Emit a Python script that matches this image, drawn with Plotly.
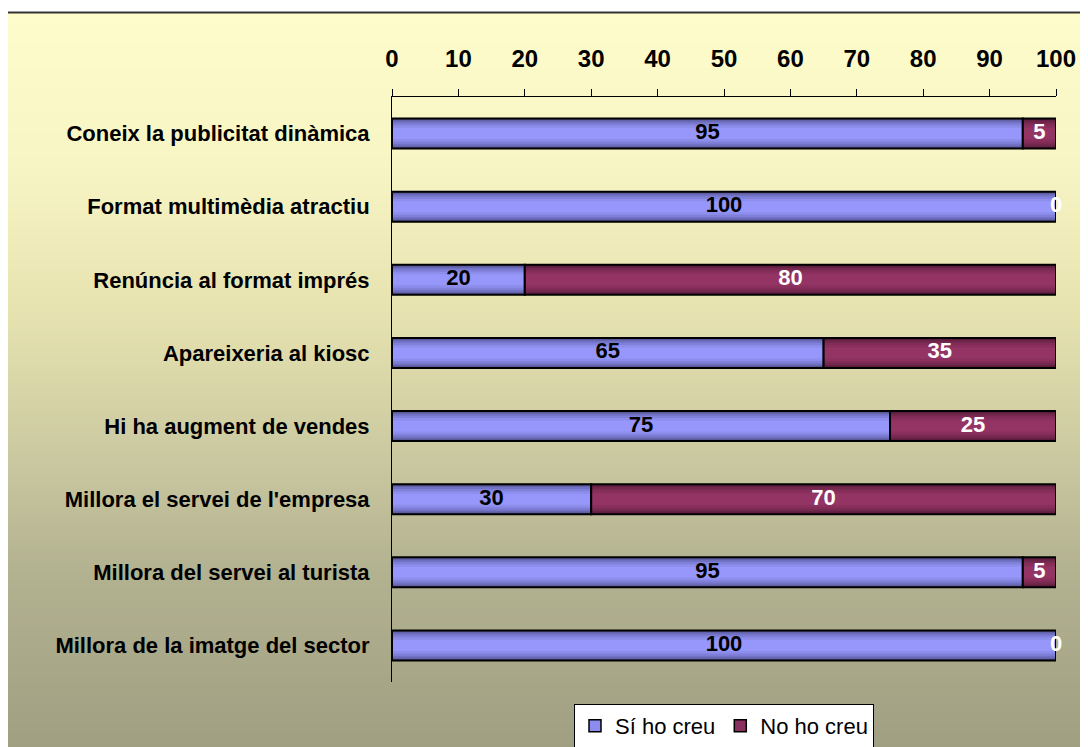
import plotly.graph_objects as go

categories = [
    "Coneix la publicitat dinàmica",
    "Format multimèdia atractiu",
    "Renúncia al format imprés",
    "Apareixeria al kiosc",
    "Hi ha augment de vendes",
    "Millora el servei de l'empresa",
    "Millora del servei al turista",
    "Millora de la imatge del sector",
]
si_values = [95, 100, 20, 65, 75, 30, 95, 100]
no_values = [5, 0, 80, 35, 25, 70, 5, 0]
series_names = ["Sí ho creu", "No ho creu"]
x_ticks = list(range(0, 101, 10))

FONT = "Liberation Sans, Arial, sans-serif"
W, H = 1088, 747
OFF = 8  # page body margin
L, T = 392 - OFF, 97 - OFF
R = W - (1056 - OFF)
B = H - (682 - OFF)
PW, PH = W - L - R, H - T - B


def s2x(sx):
    return (sx - OFF - L) / PW


def s2y(sy):
    return (H - B - (sy - OFF)) / PH


fig = go.Figure()

blue_layers = [(0.41, "#52528c"), (0.37, "#6262aa"), (0.33, "#7272c4"), (0.28, "#8080da"),
               (0.22, "#8d8dec"), (0.15, "#9797fb")]
red_layers = [(0.41, "#541b38"), (0.37, "#642143"), (0.33, "#72274d"), (0.28, "#802c56"),
              (0.22, "#8b305e"), (0.15, "#943465")]
legend_colors = ["#8c8cf0", "#8a3060"]

for name, vals, bases, layers, lc in [
    (series_names[0], si_values, [0] * len(si_values), blue_layers, legend_colors[0]),
    (series_names[1], no_values, si_values, red_layers, legend_colors[1]),
]:
    fig.add_trace(go.Bar(
        y=[None], x=[None], orientation="h", name=name, legendgroup=name,
        marker=dict(color=lc, line=dict(width=1.5, color="black")), showlegend=True,
    ))
    for w, c in layers:
        fig.add_trace(go.Bar(
            y=categories, x=vals, base=bases, orientation="h", width=w,
            marker=dict(color=c, line=dict(width=0)),
            name=name, showlegend=False, legendgroup=name, hoverinfo="skip",
        ))
    fig.add_trace(go.Bar(
        y=categories, x=vals, base=bases, orientation="h", width=0.41,
        marker=dict(color="rgba(0,0,0,0)", line=dict(width=2, color="black")),
        showlegend=False, legendgroup=name, hoverinfo="skip",
    ))

# value labels
fig.add_trace(go.Scatter(
    y=categories, x=[v / 2 for v in si_values], mode="text",
    text=[str(v) for v in si_values],
    textfont=dict(family=FONT, size=22, color="black", weight="bold"),
    showlegend=False, cliponaxis=False, hoverinfo="skip",
))
fig.add_trace(go.Scatter(
    y=categories, x=[s + n / 2 for s, n in zip(si_values, no_values)], mode="text",
    text=[str(v) for v in no_values],
    textfont=dict(family=FONT, size=22, color="white", weight="bold"),
    showlegend=False, cliponaxis=False, hoverinfo="skip",
))

# background gradient (decorative)
stops = [
    (12, (254, 252, 203)),
    (165, (248, 245, 196)),
    (315, (230, 226, 176)),
    (465, (201, 199, 159)),
    (575, (178, 177, 144)),
    (747, (160, 159, 130)),
]


def color_at(py):
    for (y0, c0), (y1, c1) in zip(stops[:-1], stops[1:]):
        if y0 <= py <= y1:
            t = (py - y0) / (y1 - y0)
            return "rgb(%d,%d,%d)" % tuple(round(a + (b - a) * t) for a, b in zip(c0, c1))
    return "rgb(%d,%d,%d)" % stops[-1][1]


shapes = []
step = 4
py = 12
while py < H + 10:
    shapes.append(dict(
        type="rect", xref="paper", yref="paper", layer="below",
        x0=s2x(7), x1=s2x(W + 20), y0=s2y(py + step + 0.5), y1=s2y(py),
        fillcolor=color_at(py + step / 2), line=dict(width=0),
    ))
    py += step
shapes.append(dict(
    type="rect", xref="paper", yref="paper", layer="below",
    x0=s2x(7), x1=s2x(W + 30), y0=s2y(H + 30), y1=s2y(12.5),
    fillcolor="rgba(0,0,0,0)", line=dict(width=2, color="#333333"),
))

fig.update_layout(
    width=W, height=H,
    margin=dict(l=L, r=R, t=T, b=B, autoexpand=False),
    paper_bgcolor="white", plot_bgcolor="rgba(0,0,0,0)",
    barmode="overlay",
    shapes=shapes,
    font=dict(family=FONT, color="black"),
    legend=dict(
        orientation="h", x=0.5, xanchor="center", y=s2y(704), yanchor="top",
        bgcolor="white", bordercolor="black", borderwidth=1,
        font=dict(family=FONT, size=22, color="black"),
        traceorder="normal", itemwidth=30,
    ),
    xaxis=dict(
        side="top", range=[0, 100], tickvals=x_ticks, showgrid=False, zeroline=False,
        showline=True, linecolor="black", linewidth=1,
        ticks="outside", ticklen=7, tickcolor="black", tickwidth=1,
        tickfont=dict(family=FONT, size=24, color="black", weight="bold"),
        ticklabelstandoff=12, fixedrange=True,
    ),
    yaxis=dict(
        type="category", categoryorder="array", categoryarray=categories,
        range=[len(categories) - 0.5, -0.5],
        showgrid=False, zeroline=False,
        showline=True, linecolor="black", linewidth=1, ticks="",
        tickfont=dict(family=FONT, size=22, color="black", weight="bold"),
        ticklabelstandoff=17, fixedrange=True,
    ),
)

fig.write_html("out.html")
